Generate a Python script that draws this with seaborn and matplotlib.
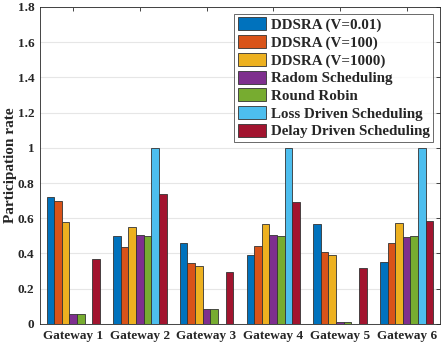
import numpy as np
import pandas as pd
import seaborn as sns
import matplotlib.pyplot as plt

gateways = ['Gateway 1', 'Gateway 2', 'Gateway 3', 'Gateway 4', 'Gateway 5', 'Gateway 6']
schemes = ['DDSRA (V=0.01)', 'DDSRA (V=100)', 'DDSRA (V=1000)', 'Radom Scheduling',
           'Round Robin', 'Loss Driven Scheduling', 'Delay Driven Scheduling']
ddsra_001 = [0.72, 0.50, 0.46, 0.39, 0.57, 0.35]
ddsra_100 = [0.70, 0.435, 0.345, 0.44, 0.41, 0.46]
ddsra_1000 = [0.58, 0.55, 0.33, 0.57, 0.39, 0.575]
random_sched = [0.055, 0.505, 0.085, 0.505, 0.01, 0.495]
round_robin = [0.055, 0.50, 0.085, 0.50, 0.01, 0.50]
loss_driven = [0.0, 1.0, 0.0, 1.0, 0.0, 1.0]
delay_driven = [0.37, 0.735, 0.295, 0.69, 0.32, 0.585]
colors = ['#0072BD', '#D95319', '#EDB120', '#7E2F8E', '#77AC30', '#4DBEEE', '#A2142F']

series = [ddsra_001, ddsra_100, ddsra_1000, random_sched, round_robin, loss_driven, delay_driven]
rows = []
for name, vals in zip(schemes, series):
    for g, v in zip(gateways, vals):
        rows.append({'Gateway': g, 'Scheme': name, 'Rate': v})
df = pd.DataFrame(rows)

sns.set_style('white')
plt.rcParams['font.family'] = ['Liberation Serif', 'DejaVu Serif']
plt.rcParams['font.weight'] = 'bold'

fig = plt.figure(figsize=(4.43, 3.45), dpi=100)
ax = fig.add_axes([0.090, 0.061, 0.903, 0.919])
sns.barplot(data=df, x='Gateway', y='Rate', hue='Scheme', hue_order=schemes,
            palette=colors, width=0.8, edgecolor='#333333', linewidth=0.6,
            saturation=1, ax=ax, zorder=3)

ax.set_xlim(-0.5, 5.5)
ax.set_ylim(0, 1.8)
ax.set_yticks(np.arange(0, 1.81, 0.2))
ax.set_yticklabels(['0', '0.2', '0.4', '0.6', '0.8', '1', '1.2', '1.4', '1.6', '1.8'])
ax.grid(axis='y', color='#e6e6e6', linewidth=0.8, zorder=0)
ax.set_axisbelow(True)
ax.set_xlabel('')
ax.set_ylabel('Participation rate', fontsize=11, fontweight='bold')
ax.yaxis.set_label_coords(-0.058, 0.5)
ax.tick_params(axis='both', direction='in', labelsize=9.5, top=True, right=True,
               length=3, width=0.6, color='#262626', pad=4)
for lab in ax.get_xticklabels() + ax.get_yticklabels():
    lab.set_fontweight('bold')
for s in ax.spines.values():
    s.set_visible(True)
    s.set_color('#262626')
    s.set_linewidth(0.6)

leg = ax.legend(loc='upper right', frameon=True, fancybox=False,
                edgecolor='#262626', handlelength=1.9, handleheight=0.95,
                labelspacing=0.2, handletextpad=0.3, borderpad=0.25,
                borderaxespad=0.45, prop={'weight': 'bold', 'size': 10.8})
leg.get_frame().set_linewidth(0.6)

fig.savefig('out.png', dpi=100)
